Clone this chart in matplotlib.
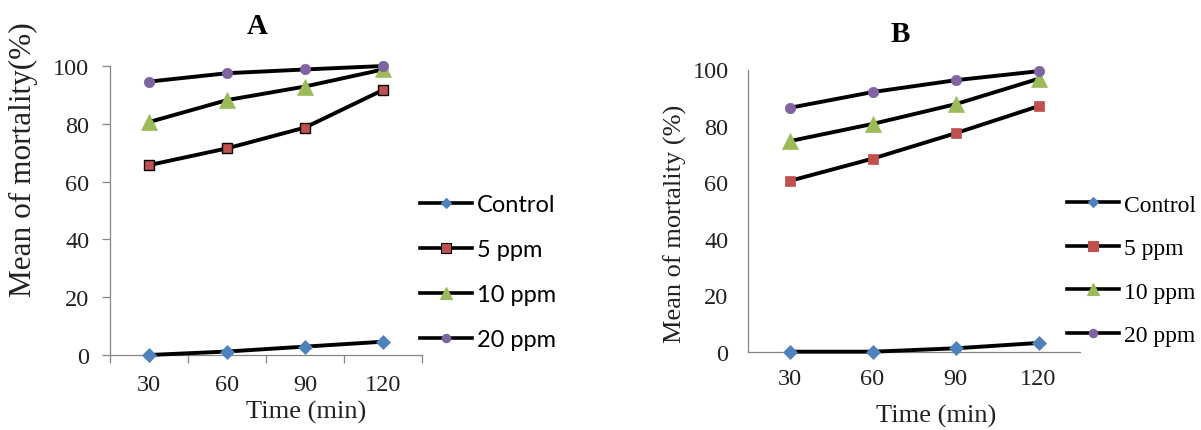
import matplotlib
matplotlib.use('Agg')
import matplotlib.pyplot as plt
from matplotlib.lines import Line2D
import numpy as np

times = ["30", "60", "90", "120"]
y_ticks = [0, 20, 40, 60, 80, 100]
series_names = ["Control", "5 ppm", "10 ppm", "20 ppm"]

# panel A
a_control = [0, 1.2, 2.9, 4.6]
a_5ppm = [65.7, 71.5, 78.7, 91.7]
a_10ppm = [80.6, 88.2, 92.9, 98.8]
a_20ppm = [94.6, 97.5, 98.8, 100]

# panel B
b_control = [0, 0, 1.2, 3.1]
b_5ppm = [60.5, 68.4, 77.4, 87.0]
b_10ppm = [74.6, 80.7, 87.7, 96.7]
b_20ppm = [86.4, 92.0, 96.2, 99.4]

COLORS = ["#4F81BD", "#C0504D", "#9BBB59", "#8064A2"]
MARKERS = ["D", "s", "^", "o"]
SIZES = [7.5, 7.5, 12, 7.5]
SPINE = "#868686"
SERIF = "Liberation Serif"
TXT = "#222222"
TICKFS = 17.5

W, H = 1201, 431
fig = plt.figure(figsize=(W / 100, H / 100), dpi=100)


def px_axes(left, right, bottom, top):
    return fig.add_axes([left / W, 1 - bottom / H, (right - left) / W, (bottom - top) / H])


def draw_panel(ax, data, edge_sq, ticks):
    x = np.arange(len(times))
    for i, vals in enumerate(data):
        mec = COLORS[i]
        if MARKERS[i] == "s" and edge_sq:
            mec = "black"
        ax.plot(x, vals, color="black", lw=2.8, marker=MARKERS[i], ms=SIZES[i],
                mfc=COLORS[i], mec=mec, mew=1.0 if mec == "black" else 0.5,
                clip_on=False, zorder=3)
    ax.set_xlim(-0.5, 3.5)
    ax.set_ylim(0, 100)
    for s in ["top", "right"]:
        ax.spines[s].set_visible(False)
    for s in ["left", "bottom"]:
        ax.spines[s].set_color(SPINE)
        ax.spines[s].set_linewidth(0.9)
    ax.set_xticks(x, labels=times, fontsize=TICKFS, family=SERIF, color=TXT)
    ax.set_yticks(y_ticks, labels=[str(v) for v in y_ticks], fontsize=TICKFS,
                  family=SERIF, color=TXT)
    if ticks:
        # category boundaries get the tick marks, like Excel
        ax.set_xticks(np.arange(-0.5, 4, 1), minor=True)
        ax.tick_params(axis="x", which="major", length=0, pad=14)
        ax.tick_params(axis="x", which="minor", length=6, color=SPINE, width=0.9)
        ax.tick_params(axis="y", length=6, color=SPINE, width=0.9, pad=9)
    else:
        ax.tick_params(axis="x", length=0, pad=12)
        ax.tick_params(axis="y", length=0, pad=14)


def add_legend(ax, x0, y0, edge_sq, font, spacing):
    handles = []
    lsizes = [5.5, 6.5, 8, 6]
    for i, name in enumerate(series_names):
        mec = "black" if (MARKERS[i] == "s" and edge_sq) else COLORS[i]
        handles.append(Line2D([], [], color="black", lw=2.6, marker=MARKERS[i], ms=lsizes[i],
                              mfc=COLORS[i], mec=mec, mew=0.8, label=name))
    leg = ax.legend(handles=handles, loc="upper left", bbox_to_anchor=(x0 / W, 1 - y0 / H),
                    bbox_transform=fig.transFigure, frameon=False, handlelength=2.2,
                    handletextpad=0.22, labelspacing=spacing, borderpad=0, borderaxespad=0,
                    prop={"family": font, "size": 17})
    return leg


axA = px_axes(110, 422, 356, 67)
draw_panel(axA, [a_control, a_5ppm, a_10ppm, a_20ppm], True, True)
add_legend(axA, 420, 195, True, "Lato", 1.02)

axB = px_axes(748, 1080, 352.7, 70.5)
draw_panel(axB, [b_control, b_5ppm, b_10ppm, b_20ppm], False, False)
add_legend(axB, 1067, 195, False, SERIF, 0.93)

fig.text(257 / W, 1 - 26 / H, "A", ha="center", va="center", family=SERIF,
         fontweight="bold", fontsize=21)
fig.text(900 / W, 1 - 34 / H, "B", ha="center", va="center", family=SERIF,
         fontweight="bold", fontsize=21)
fig.text(23 / W, 1 - 160 / H, "Mean of mortality(%)", rotation=90, ha="center", va="center",
         family=SERIF, fontsize=22.5, color=TXT)
fig.text(675 / W, 1 - 224 / H, "Mean of mortality (%)", rotation=90, ha="center", va="center",
         family=SERIF, fontsize=19, color=TXT)
fig.text(306 / W, 1 - 412 / H, "Time (min)", ha="center", va="center", family=SERIF,
         fontsize=19, color=TXT)
fig.text(936 / W, 1 - 416 / H, "Time (min)", ha="center", va="center", family=SERIF,
         fontsize=19, color=TXT)

fig.savefig("out.png", dpi=100)
